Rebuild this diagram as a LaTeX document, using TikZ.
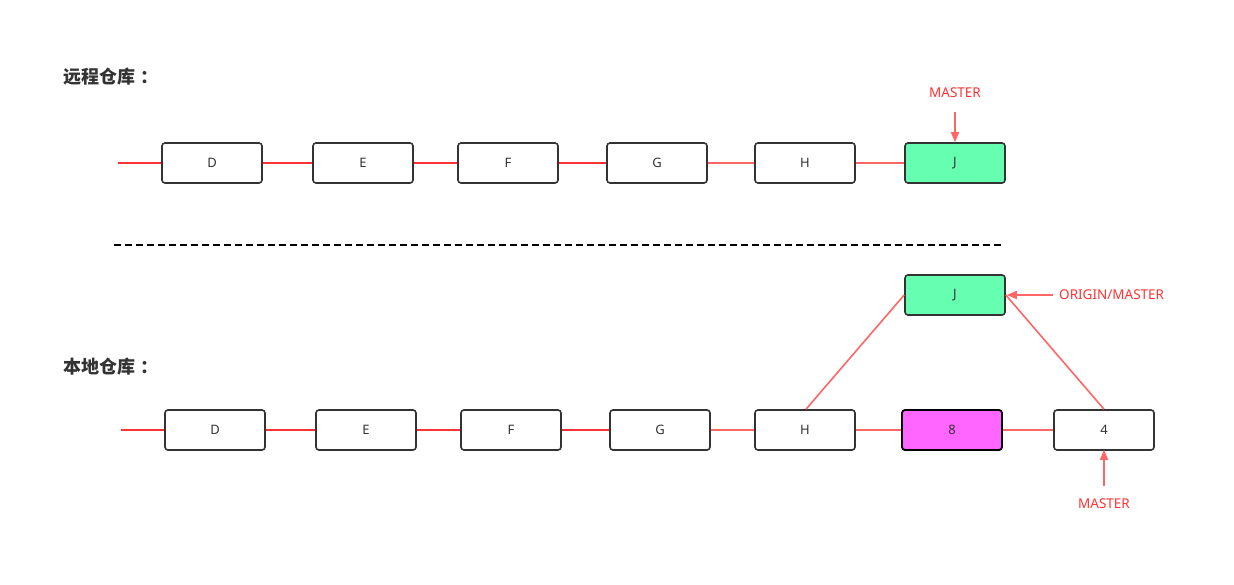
\documentclass[tikz,border=0pt]{standalone}
\usepackage{fontspec}
\setmainfont{Noto Sans}
\newfontfamily\cjk{Noto Sans CJK SC}
\usetikzlibrary{arrows.meta}
\definecolor{darkred}{HTML}{FF3333}
\definecolor{lightred}{HTML}{FF6666}
\definecolor{boxgreen}{HTML}{66FFB2}
\definecolor{boxpink}{HTML}{FF66FF}
\definecolor{txt}{HTML}{333333}
\begin{document}
\begin{tikzpicture}[x=1pt,y=-1pt,
  commit/.style={draw=txt,line width=1.6pt,rounded corners=3pt,minimum width=100pt,minimum height=40pt,inner sep=0pt,font=\fontsize{13}{13}\selectfont,text=txt,fill=white},
  strong/.style={draw=darkred,line width=1.8pt},
  soft/.style={draw=lightred,line width=1.6pt},
  ptr/.style={draw=lightred,line width=1.6pt,-{Triangle[length=10pt,width=8pt]}},
  lbl/.style={text=darkred,font=\fontsize{13.5}{13.5}\selectfont,inner sep=0pt},
  title/.style={text=txt,font=\cjk\bfseries\fontsize{18}{18}\selectfont,anchor=west,inner sep=0pt}]
\useasboundingbox[fill=white] (0,0) rectangle (1234,584);
% titles
\node[title] (t1) at (63,77) {远程仓库\kern5pt：};
\node[title] (t2) at (63,367) {本地仓库\kern5pt：};
% remote row
\coordinate (rs) at (118,163);
\node[commit] (rD) at (212,163) {D};
\node[commit] (rE) at (363,163) {E};
\node[commit] (rF) at (508,163) {F};
\node[commit] (rG) at (657,163) {G};
\node[commit] (rH) at (805,163) {H};
\node[commit,fill=boxgreen] (rJ) at (955,163) {J};
\draw[strong] (rs) -- (rD);
\draw[strong] (rD) -- (rE);
\draw[strong] (rE) -- (rF);
\draw[strong] (rF) -- (rG);
\draw[soft] (rG) -- (rH);
\draw[soft] (rH) -- (rJ);
\node[lbl] (rm) at (955,93) {MASTER};
\coordinate (rmt) at (955,112);
\draw[ptr] (rmt) -- (rJ.north);
% separator
\coordinate (s1) at (114,245);
\coordinate (s2) at (1002,245);
\draw[black,line width=1.6pt,dash pattern=on 7pt off 4pt] (s1) -- (s2);
% local row
\coordinate (ls) at (121,430);
\node[commit] (lD) at (215,430) {D};
\node[commit] (lE) at (366,430) {E};
\node[commit] (lF) at (511,430) {F};
\node[commit] (lG) at (660,430) {G};
\node[commit] (lH) at (805,430) {H};
\node[commit,fill=boxpink,draw=black,line width=1.8pt] (l8) at (952,430) {8};
\node[commit] (l4) at (1104,430) {4};
\node[commit,fill=boxgreen] (lJ) at (955,295) {J};
\draw[strong] (ls) -- (lD);
\draw[strong] (lD) -- (lE);
\draw[strong] (lE) -- (lF);
\draw[strong] (lF) -- (lG);
\draw[soft] (lG) -- (lH);
\draw[soft] (lH) -- (l8);
\draw[soft] (l8) -- (l4);
\draw[soft] ([xshift=1pt]lH.north) -- (lJ.west);
\draw[soft] (lJ.east) -- (l4.north);
% pointers
\node[lbl,anchor=west] (om) at (1059,295) {ORIGIN/MASTER};
\coordinate (omt) at (1053,295);
\draw[ptr] (omt) -- ([xshift=1pt]lJ.east);
\node[lbl] (lm) at (1104,504) {MASTER};
\coordinate (lmt) at (1104,486);
\draw[ptr] (lmt) -- ([yshift=1pt]l4.south);
\end{tikzpicture}
\end{document}
